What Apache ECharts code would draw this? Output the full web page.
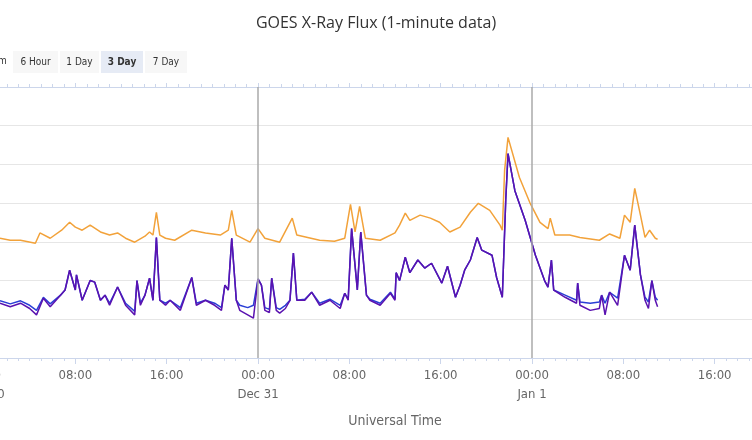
<!DOCTYPE html>
<html>
<head>
<meta charset="utf-8">
<script src="https://cdn.jsdelivr.net/npm/echarts@6/dist/echarts.min.js"></script>
<style>html,body{margin:0;padding:0;background:#fff}#chart{width:752px;height:440px}</style>
</head>
<body>
<div id="chart"></div>
<script>
// hours since 2023-12-30 00:00 UTC
var longHours = [1.4,2.3,3.2,4.5,4.9,5.8,6.8,7.5,8.0,8.6,9.3,10.2,11.0,11.7,12.4,13.2,14.1,14.5,14.8,15.1,15.4,15.9,16.7,18.2,19.4,20.7,21.4,21.7,22.1,23.3,24.0,24.6,25.9,27.0,27.4,29.4,30.7,31.6,32.1,32.5,32.9,33.4,34.7,36.0,36.4,36.9,37.3,38.2,39.1,39.9,40.8,41.7,42.6,43.3,44.3,45.2,45.4,45.6,45.9,46.9,47.8,48.7,49.4,49.6,50.0,51.3,52.2,53.9,54.8,55.7,56.1,56.6,57.0,57.5,57.9,58.3,58.8,59.0];
var longFlux = [1.24e-6,1.1e-6,1.1e-6,9.2e-7,1.7e-6,1.24e-6,2.0e-6,3.2e-6,2.4e-6,2.0e-6,2.7e-6,1.8e-6,1.5e-6,1.7e-6,1.24e-6,9.8e-7,1.4e-6,1.8e-6,1.5e-6,5.8e-6,1.5e-6,1.24e-6,1.1e-6,2.0e-6,1.7e-6,1.5e-6,2.0e-6,6.5e-6,1.5e-6,9.8e-7,2.2e-6,1.24e-6,9.8e-7,4.1e-6,1.5e-6,1.1e-6,1.04e-6,1.24e-6,9.3e-6,1.8e-6,8.3e-6,1.24e-6,1.1e-6,1.7e-6,2.7e-6,5.5e-6,3.6e-6,4.9e-6,4.1e-6,3.2e-6,1.8e-6,2.4e-6,5.8e-6,9.9e-6,6.5e-6,2.7e-6,2.0e-6,7.0e-5,5.0e-4,4.6e-5,1.05e-5,3.2e-6,2.2e-6,4.1e-6,1.5e-6,1.5e-6,1.3e-6,1.1e-6,1.6e-6,1.24e-6,4.9e-6,3.2e-6,2.4e-5,4.9e-6,1.3e-6,2.0e-6,1.24e-6,1.17e-6];

var shortHours = [1.4,2.3,3.2,4.0,4.6,5.2,5.8,6.7,7.1,7.5,8.0,8.1,8.6,9.3,9.7,10.2,10.6,11.0,11.7,12.4,13.2,13.4,13.7,14.1,14.5,14.8,15.1,15.4,15.9,16.3,17.2,18.2,18.6,19.4,20.2,20.8,21.1,21.4,21.7,22.1,22.4,23.1,23.6,24.0,24.3,24.6,25.0,25.2,25.6,25.9,26.4,26.8,27.1,27.4,28.1,28.7,29.4,30.3,31.2,31.6,31.9,32.2,32.7,33.0,33.5,33.8,34.7,35.6,36.0,36.1,36.4,36.9,37.3,38.0,38.6,39.2,40.1,40.6,41.3,41.7,42.1,42.6,43.2,43.6,44.5,44.9,45.4,45.7,45.9,46.5,47.4,48.3,49.1,49.4,49.7,49.9,50.9,51.9,52.0,52.2,53.1,53.9,54.1,54.4,54.8,55.5,56.1,56.6,57.0,57.5,57.9,58.2,58.5,58.8,59.0];
var shortFluxA = [3.0e-8,2.5e-8,3.0e-8,2.3e-8,1.7e-8,3.7e-8,2.5e-8,4.2e-8,5.7e-8,1.85e-7,5.7e-8,1.4e-7,3.1e-8,1.0e-7,9.1e-8,3.1e-8,4.2e-8,2.6e-8,6.8e-8,2.6e-8,1.6e-8,1.0e-7,2.6e-8,4.2e-8,1.15e-7,3.1e-8,1.3e-6,3.1e-8,2.6e-8,3.1e-8,2.0e-8,1.2e-7,2.6e-8,3.1e-8,2.6e-8,2.0e-8,7.6e-8,5.7e-8,1.24e-6,3.1e-8,2.3e-8,2.0e-8,2.3e-8,1.1e-7,7.6e-8,2.0e-8,1.8e-8,1.15e-7,2.0e-8,1.8e-8,2.3e-8,3.1e-8,5.1e-7,3.1e-8,3.3e-8,5.0e-8,2.6e-8,3.3e-8,2.3e-8,4.7e-8,3.3e-8,2.2e-6,5.7e-8,1.8e-6,4.2e-8,3.3e-8,2.6e-8,5.0e-8,3.3e-8,1.6e-7,1.0e-7,4.0e-7,1.6e-7,3.4e-7,2.1e-7,2.8e-7,8.6e-8,2.35e-7,3.7e-8,7.6e-8,1.85e-7,3.4e-7,1.3e-6,6.1e-7,4.5e-7,1.2e-7,3.7e-8,1.2e-5,1.9e-4,2.1e-5,3.6e-6,4.5e-7,1.0e-7,6.8e-8,3.4e-7,5.7e-8,4.2e-8,3.1e-8,8.6e-8,2.8e-8,2.6e-8,2.8e-8,4.2e-8,2.6e-8,5.0e-8,3.5e-8,4.5e-7,1.85e-7,2.7e-6,1.4e-7,3.7e-8,2.8e-8,1.0e-7,3.7e-8,3.1e-8];
var shortFluxB = [2.6e-8,2.1e-8,2.6e-8,1.9e-8,1.3e-8,3.5e-8,2.1e-8,4.2e-8,5.7e-8,1.85e-7,5.7e-8,1.4e-7,3.1e-8,1.0e-7,9.1e-8,3.1e-8,4.2e-8,2.3e-8,6.8e-8,2.3e-8,1.3e-8,1.0e-7,2.3e-8,4.2e-8,1.15e-7,3.1e-8,1.3e-6,3.1e-8,2.3e-8,3.1e-8,1.7e-8,1.2e-7,2.3e-8,3.1e-8,2.3e-8,1.7e-8,7.6e-8,5.7e-8,1.24e-6,3.1e-8,1.7e-8,1.3e-8,1.07e-8,1.1e-7,7.6e-8,1.7e-8,1.5e-8,1.15e-7,1.7e-8,1.45e-8,1.9e-8,3.1e-8,5.1e-7,3.1e-8,3.1e-8,5.0e-8,2.3e-8,3.1e-8,1.9e-8,4.7e-8,3.1e-8,2.2e-6,5.7e-8,1.8e-6,4.2e-8,3.1e-8,2.3e-8,4.7e-8,3.1e-8,1.6e-7,1.0e-7,4.0e-7,1.6e-7,3.4e-7,2.1e-7,2.8e-7,8.6e-8,2.35e-7,3.7e-8,7.6e-8,1.85e-7,3.4e-7,1.3e-6,6.1e-7,4.5e-7,1.2e-7,3.7e-8,1.2e-5,1.9e-4,2.1e-5,3.6e-6,4.5e-7,1.0e-7,6.8e-8,3.4e-7,5.7e-8,3.7e-8,2.6e-8,8.6e-8,2.3e-8,1.7e-8,1.9e-8,4.2e-8,1.3e-8,5.0e-8,2.3e-8,4.5e-7,1.85e-7,2.7e-6,1.4e-7,3.1e-8,1.9e-8,1.0e-7,3.1e-8,2.1e-8];

var dayLines = ['2023-12-31T00:00:00Z', '2024-01-01T00:00:00Z'];
var buttons = ['6 Hour', '1 Day', '3 Day', '7 Day'];

var t0 = Date.UTC(2023, 11, 30);
var H = 3600 * 1000;
function pairs(hours, vals) {
    return hours.map(function (h, i) { return [t0 + h * H, vals[i]]; });
}
var months = ['Jan','Feb','Mar','Apr','May','Jun','Jul','Aug','Sep','Oct','Nov','Dec'];
function fmt(v) {
    var d = new Date(v);
    var hh = ('0' + d.getUTCHours()).slice(-2) + ':00';
    if (d.getUTCHours() === 0) return hh + '\n' + months[d.getUTCMonth()] + ' ' + d.getUTCDate();
    return hh;
}

var font = 'DejaVu Sans Condensed';
// value axis on timestamps so the 8 h interval is honoured (min t0 is a multiple of it)
var xBase = {
    type: 'value', min: t0, max: t0 + 72 * H, interval: 8 * H,
    axisLine: {lineStyle: {color: '#ccd6eb'}},
    axisTick: {length: 6, lineStyle: {color: '#ccd6eb'}},
    minorTick: {show: true, splitNumber: 8, length: 3, lineStyle: {color: '#ccd6eb'}},
    splitLine: {show: false}
};

var btnGraphics = [{type: 'text', left: -2, top: 56, style: {text: 'm', fill: '#333', font: '10px ' + font}}];
var bx = 13, widths = [47, 41, 44, 44];
buttons.forEach(function (b, i) {
    btnGraphics.push({
        type: 'group', left: bx, top: 51,
        children: [
            {type: 'rect', shape: {x: 0, y: 0, width: widths[i] - 2, height: 22}, style: {fill: b === '3 Day' ? '#e6ebf5' : '#f7f7f7'}},
            {type: 'text', style: {x: (widths[i] - 2) / 2, y: 11, text: b, align: 'center', verticalAlign: 'middle', fill: '#333', font: (b === '3 Day' ? 'bold ' : '') + '10px ' + font}}
        ]
    });
    bx += widths[i];
});

var chart = echarts.init(document.getElementById('chart'));
chart.setOption({
    animation: false,
    title: {text: 'GOES X-Ray Flux (1-minute data)', left: 'center', top: 10, textStyle: {fontFamily: 'Open Sans', fontSize: 16, fontWeight: 'normal', color: '#333'}},
    grid: {left: -16, right: -54, top: 87, bottom: 82, containLabel: false, outerBoundsMode: 'none'},
    graphic: btnGraphics,
    xAxis: [
        Object.assign({}, xBase, {
            position: 'bottom',
            name: 'Universal Time', nameLocation: 'middle', nameGap: 56,
            nameTextStyle: {fontFamily: font, fontSize: 14, color: '#666'},
            axisLabel: {formatter: fmt, fontFamily: font, fontSize: 13, color: '#666', lineHeight: 19, margin: 8, hideOverlap: false, showMinLabel: true, showMaxLabel: true}
        }),
        Object.assign({}, xBase, {position: 'top', axisLabel: {show: false}, axisTick: {length: 4, lineStyle: {color: '#ccd6eb'}}})
    ],
    yAxis: {
        type: 'log', logBase: 10, min: 1e-9, max: 1e-2,
        axisLabel: {show: false}, axisLine: {show: false}, axisTick: {show: false},
        splitLine: {lineStyle: {color: '#e6e6e6'}}
    },
    series: [
        {type: 'line', data: pairs(shortHours, shortFluxA), showSymbol: false, lineStyle: {color: '#2a3fd6', width: 1.5},
         markLine: {silent: true, symbol: 'none', label: {show: false}, lineStyle: {color: '#aaaaaa', width: 1.5, type: 'solid'},
                    data: dayLines.map(function (d) { return {xAxis: Date.parse(d)}; })}},
        {type: 'line', data: pairs(shortHours, shortFluxB), showSymbol: false, lineStyle: {color: '#5a12b0', width: 1.5}},
        {type: 'line', data: pairs(longHours, longFlux), showSymbol: false, lineStyle: {color: '#f2a23a', width: 1.5}}
    ]
});
</script>
</body>
</html>
